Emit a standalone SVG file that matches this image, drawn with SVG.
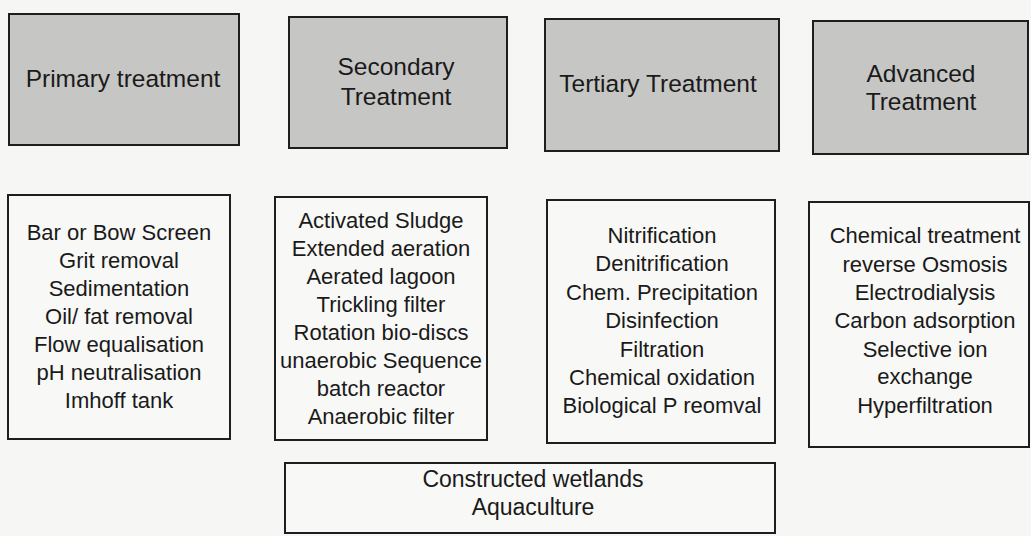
<svg xmlns="http://www.w3.org/2000/svg" width="1031" height="536" viewBox="0 0 1031 536">
<style>
.bg{fill:#f6f6f4}
.hdr{fill:#c6c6c4;stroke:#1e1e1e;stroke-width:2}
.box{fill:#f8f8f6;stroke:#1e1e1e;stroke-width:2}
text{font-family:"Liberation Sans",Arial,sans-serif;fill:#1a1a1a;text-anchor:middle}
.h{font-size:24.5px}
.b{font-size:22px}
.c{font-size:23px}
</style>
<rect class="bg" x="0" y="0" width="1031" height="536"/>
<g id="primary-header">
<rect class="hdr" x="9" y="14" width="230" height="131"/>
<text class="h" x="123" y="87">Primary treatment</text>
</g>
<g id="secondary-header">
<rect class="hdr" x="289" y="17" width="218" height="131"/>
<text class="h" x="396" y="75">Secondary</text>
<text class="h" x="396" y="105">Treatment</text>
</g>
<g id="tertiary-header">
<rect class="hdr" x="545" y="19" width="234" height="132"/>
<text class="h" x="658" y="92">Tertiary Treatment</text>
</g>
<g id="advanced-header">
<rect class="hdr" x="813" y="21" width="215" height="133"/>
<text class="h" x="921" y="82">Advanced</text>
<text class="h" x="921" y="110">Treatment</text>
</g>
<g id="primary-list">
<rect class="box" x="8" y="195" width="222" height="244"/>
<text class="b" x="119" y="240">Bar or Bow Screen</text>
<text class="b" x="119" y="268">Grit removal</text>
<text class="b" x="119" y="296">Sedimentation</text>
<text class="b" x="119" y="324">Oil/ fat removal</text>
<text class="b" x="119" y="352">Flow equalisation</text>
<text class="b" x="119" y="380">pH neutralisation</text>
<text class="b" x="119" y="408">Imhoff tank</text>
</g>
<g id="secondary-list">
<rect class="box" x="275" y="197" width="212" height="243"/>
<text class="b" x="381" y="228">Activated Sludge</text>
<text class="b" x="381" y="256">Extended aeration</text>
<text class="b" x="381" y="284">Aerated lagoon</text>
<text class="b" x="381" y="312">Trickling filter</text>
<text class="b" x="381" y="340">Rotation bio-discs</text>
<text class="b" x="381" y="368">unaerobic Sequence</text>
<text class="b" x="381" y="396">batch reactor</text>
<text class="b" x="381" y="424">Anaerobic filter</text>
</g>
<g id="tertiary-list">
<rect class="box" x="547" y="200" width="228" height="243"/>
<text class="b" x="662" y="243">Nitrification</text>
<text class="b" x="662" y="271">Denitrification</text>
<text class="b" x="662" y="300">Chem. Precipitation</text>
<text class="b" x="662" y="328">Disinfection</text>
<text class="b" x="662" y="357">Filtration</text>
<text class="b" x="662" y="385">Chemical oxidation</text>
<text class="b" x="662" y="413">Biological P reomval</text>
</g>
<g id="advanced-list">
<rect class="box" x="809" y="202" width="220" height="245"/>
<text class="b" x="925" y="243">Chemical treatment</text>
<text class="b" x="925" y="272">reverse Osmosis</text>
<text class="b" x="925" y="300">Electrodialysis</text>
<text class="b" x="925" y="328">Carbon adsorption</text>
<text class="b" x="925" y="357">Selective ion</text>
<text class="b" x="925" y="384">exchange</text>
<text class="b" x="925" y="413">Hyperfiltration</text>
</g>
<g id="natural-systems">
<rect class="box" x="285" y="463" width="490" height="70"/>
<text class="c" x="533" y="487">Constructed wetlands</text>
<text class="c" x="533" y="515">Aquaculture</text>
</g>
<g id="connectors"></g>
</svg>
